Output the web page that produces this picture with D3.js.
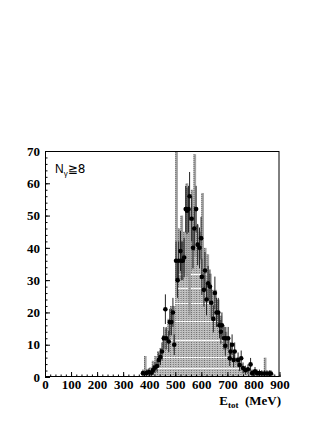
<!DOCTYPE html>
<html>
<head>
<meta charset="utf-8">
<script src="https://cdn.jsdelivr.net/npm/d3@7"></script>
<style>
  body { margin: 0; background: #fff; }
  svg { display: block; }
</style>
</head>
<body>
<svg id="chart" width="327" height="423"></svg>
<script>
// ---- data ----
// simulated spectrum, 10 MeV bins (bin start in MeV), value and error-box half height
const binStarts = [370, 380, 390, 400, 410, 420, 430, 440, 450, 460,
                   470, 480, 490, 500, 510, 520, 530, 540, 550, 560,
                   570, 580, 590, 600, 610, 620, 630, 640, 650, 660,
                   670, 680, 690, 700, 710, 720, 730, 740, 750, 760,
                   770, 780, 790, 800, 810, 820, 830, 840, 850, 860, 870];
const mcVal = [1, 3.75, 1.75, 2.25, 3.75, 5.25, 6.5, 7.5, 11, 13,
               14, 19.5, 15, 48.5, 42.5, 45, 38.5, 45.5, 35.5, 45.5,
               53, 42, 40, 44, 37, 33, 29, 24.5, 25.5, 21,
               17, 14, 12.5, 10.5, 8, 6, 5, 4, 3, 2.5,
               2, 1.5, 1.5, 1.25, 0.75, 0.75, 1.25, 3.75, 0.75, 0.75, 0.75];
const mcErr = [0.5, 2.75, 0.75, 0.75, 1.25, 1.25, 1.5, 1.5, 2, 2,
               4, 2.5, 7, 23.5, 3.5, 5, 6.5, 14.5, 16.5, 12.5,
               16, 5, 5, 13, 3, 5, 3, 2.5, 1.5, 3,
               2, 2, 1.5, 1.5, 2, 1, 1, 1, 1, 0.5,
               0.5, 0.5, 0.5, 0.25, 0.25, 0.25, 0.25, 2.25, 0.25, 0.25, 0.25];

// measured points: energy (MeV), counts, error
const dataE = [376, 389, 399, 409, 415, 422, 430, 437, 443, 449,
               456, 462, 465, 475, 479, 485, 491, 496, 503, 509,
               513, 520, 523, 529, 534, 540, 545, 551, 555, 563,
               568, 573, 580, 586, 593, 599, 602, 610, 614, 620,
               626, 633, 638, 646, 652, 658, 665, 670, 675, 679,
               687, 692, 694, 703, 709, 712, 718, 724, 728, 741,
               747, 753, 760, 769, 779, 789, 795, 806, 814, 823,
               832, 842, 852, 861, 867];
const dataN = [1.2, 1.2, 1.5, 1.3, 2.2, 2.9, 3.4, 5.3, 6.2, 7.9,
               12, 21, 12, 11, 17, 17, 20, 10, 36, 30,
               36, 39, 36, 36, 37, 52, 51.5, 52, 56, 49,
               40, 46, 52, 41, 40, 43, 31, 27, 33, 24,
               29, 28, 23, 18, 26, 20, 20, 16, 14, 16,
               12, 9.7, 12, 12, 5.8, 7.9, 10, 5.3, 7.9, 5.3,
               3.7, 5.8, 2.8, 2.1, 2.4, 3.9, 1.2, 1.8, 1.2, 1.2,
               1.1, 1.1, 1.1, 1.1, 1.1];
const dataErr = [1.1, 1.1, 1.2, 1.2, 1.5, 1.7, 1.8, 2.3, 2.5, 2.8,
                 3.5, 4.6, 3.5, 3.3, 4.1, 4.1, 4.5, 3.2, 6, 5.5,
                 6, 6.2, 6, 6, 6.1, 7.2, 7.2, 7.2, 7.5, 7,
                 6.3, 6.8, 7.2, 6.4, 6.3, 6.6, 5.6, 5.2, 5.7, 4.9,
                 5.4, 5.3, 4.8, 4.2, 5.1, 4.5, 4.5, 4, 3.7, 4,
                 3.5, 3.1, 3.5, 3.5, 2.4, 2.8, 3.2, 2.3, 2.8, 2.3,
                 1.9, 2.4, 1.7, 1.4, 1.5, 2, 1.1, 1.3, 1.1, 1.1,
                 1, 1, 1, 1, 1];

// white streaks seen across the filled histogram
const streakLevels = [2.8, 6.2, 11.5, 17.3, 23, 27.5, 32];

const xTicks = [0, 100, 200, 300, 400, 500, 600, 700, 800, 900];
const yTicks = [0, 10, 20, 30, 40, 50, 60, 70];
const binWidth = 10;

// ---- layout ----
const W = 327, H = 423;
const frame = { left: 45, right: 279.5, top: 151, bottom: 377 };

const svg = d3.select('#chart');
svg.append('rect').attr('width', W).attr('height', H).attr('fill', '#fff');

const x = d3.scaleLinear().domain([0, 900]).range([frame.left, frame.right]);
const y = d3.scaleLinear().domain([0, 70]).range([frame.bottom, frame.top]);

svg.append('defs').append('clipPath').attr('id', 'clip')
  .append('rect')
  .attr('x', frame.left).attr('y', frame.top)
  .attr('width', frame.right - frame.left)
  .attr('height', frame.bottom - frame.top);

const plot = svg.append('g').attr('clip-path', 'url(#clip)');

const bins = binStarts.map((e, i) => ({
  e0: e, e1: e + binWidth, lo: mcVal[i] - mcErr[i], hi: mcVal[i] + mcErr[i]
}));

// filled histogram (up to lower edge of error box)
plot.selectAll('rect.fill').data(bins).join('rect')
  .attr('class', 'fill')
  .attr('x', d => x(d.e0))
  .attr('width', d => x(d.e1) - x(d.e0))
  .attr('y', d => y(d.lo))
  .attr('height', d => y(0) - y(d.lo))
  .attr('fill', '#bdbdbd');

// error boxes
plot.selectAll('rect.box').data(bins).join('rect')
  .attr('class', 'box')
  .attr('x', d => x(d.e0))
  .attr('width', d => x(d.e1) - x(d.e0))
  .attr('y', d => y(d.hi))
  .attr('height', d => y(d.lo) - y(d.hi))
  .attr('fill', '#a2a2a2');

// stippled column in every bin
plot.selectAll('line.stip').data(bins).join('line')
  .attr('class', 'stip')
  .attr('x1', d => x(d.e0) + 0.5).attr('x2', d => x(d.e0) + 0.5)
  .attr('y1', y(0)).attr('y2', d => y(d.hi))
  .attr('stroke', '#6a6a6a')
  .attr('stroke-width', 1)
  .attr('stroke-dasharray', '1,1');

// white streaks
const streaks = [];
bins.forEach(b => {
  streakLevels.forEach(l => { if (l < b.lo) streaks.push({ e0: b.e0, e1: b.e1, l }); });
});
plot.selectAll('line.streak').data(streaks).join('line')
  .attr('class', 'streak')
  .attr('x1', d => x(d.e0)).attr('x2', d => x(d.e1))
  .attr('y1', d => Math.round(y(d.l)) + 0.5).attr('y2', d => Math.round(y(d.l)) + 0.5)
  .attr('stroke', '#fff')
  .attr('stroke-width', 1);

// measured points
const pts = dataE.map((e, i) => ({ e, n: dataN[i], err: dataErr[i] }));
plot.selectAll('line.err').data(pts).join('line')
  .attr('class', 'err')
  .attr('x1', d => x(d.e)).attr('x2', d => x(d.e))
  .attr('y1', d => y(Math.max(0, d.n - d.err)))
  .attr('y2', d => y(d.n + d.err))
  .attr('stroke', '#222')
  .attr('stroke-width', 1);
plot.selectAll('circle.pt').data(pts).join('circle')
  .attr('class', 'pt')
  .attr('cx', d => x(d.e))
  .attr('cy', d => y(d.n))
  .attr('r', 2.3)
  .attr('fill', '#000');

// ---- axes ----
const tickFont = 'bold 13px "Liberation Serif", "Times New Roman", serif';

const yAxis = svg.append('g')
  .attr('transform', `translate(${frame.left},0)`)
  .call(d3.axisLeft(y).tickValues(yTicks).tickSize(-5).tickPadding(5).tickFormat(d3.format('d')));
svg.append('g')
  .attr('transform', `translate(${frame.left},0)`)
  .call(d3.axisLeft(y).tickValues(d3.range(0, 71, 2)).tickSize(-2.5).tickFormat(''))
  .select('.domain').remove();

const xAxis = svg.append('g')
  .attr('transform', `translate(0,${frame.bottom})`)
  .call(d3.axisBottom(x).tickValues(xTicks).tickSize(-5).tickPadding(3).tickFormat(d3.format('d')));
svg.append('g')
  .attr('transform', `translate(0,${frame.bottom})`)
  .call(d3.axisBottom(x).tickValues(d3.range(0, 901, 20)).tickSize(-2.5).tickFormat(''))
  .select('.domain').remove();

svg.selectAll('.tick text')
  .style('font', tickFont)
  .attr('fill', '#000');
svg.selectAll('.tick line').attr('stroke', '#000');
yAxis.select('.domain').remove();
xAxis.select('.domain').remove();

// frame
svg.append('rect')
  .attr('x', frame.left + 0.5).attr('y', frame.top + 0.5)
  .attr('width', frame.right - frame.left - 1)
  .attr('height', frame.bottom - frame.top - 1)
  .attr('fill', 'none')
  .attr('stroke', '#000')
  .attr('stroke-width', 1);

// labels
const lab = svg.append('text')
  .attr('x', 55).attr('y', 173)
  .style('font', '12px "Liberation Sans", "DejaVu Sans", sans-serif')
  .attr('fill', '#000');
lab.append('tspan').text('N');
lab.append('tspan').attr('dy', 3).style('font-size', '8px').text('γ');
lab.append('tspan').attr('dy', -3).style('font-family', '"DejaVu Sans", sans-serif').text('≧8');

const xt = svg.append('text')
  .attr('x', 281).attr('y', 405)
  .attr('text-anchor', 'end')
  .style('font', tickFont)
  .attr('fill', '#000');
xt.append('tspan').text('E');
xt.append('tspan').attr('dy', 3).style('font-size', '9px').text('tot');
xt.append('tspan').attr('dy', -3).text('\u00a0 (MeV)');
</script>
</body>
</html>
